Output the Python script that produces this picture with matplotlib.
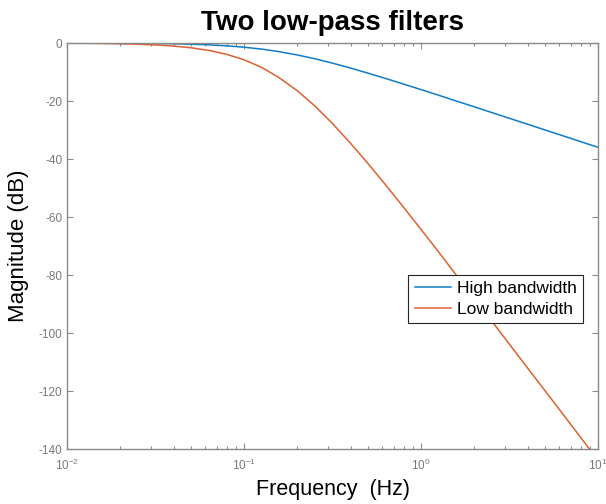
import numpy as np
import matplotlib
matplotlib.use('Agg')
import matplotlib.pyplot as plt

# frequencies, every 0.1 decade from 10^-2 to 10^1 (Hz)
freq = [0.01, 0.0126, 0.0158, 0.02, 0.0251, 0.0316, 0.0398, 0.0501, 0.0631, 0.0794,
        0.1, 0.126, 0.158, 0.2, 0.251, 0.316, 0.398, 0.501, 0.631, 0.794,
        1.0, 1.26, 1.58, 2.0, 2.51, 3.16, 3.98, 5.01, 6.31, 7.94, 10.0]

# magnitudes (dB)
high_bw = [-0.02, -0.03, -0.04, -0.07, -0.11, -0.17, -0.26, -0.41, -0.63, -0.97,
           -1.45, -2.11, -2.99, -4.12, -5.42, -6.94, -8.61, -10.38, -12.23, -14.13,
           -16.07, -18.03, -20.0, -22.01, -23.97, -25.97, -27.97, -29.96, -31.96, -33.96, -35.97]
low_bw = [-0.07, -0.11, -0.17, -0.27, -0.43, -0.67, -1.05, -1.64, -2.54, -3.86,
          -5.78, -8.44, -11.96, -16.46, -21.68, -27.76, -34.44, -41.52, -48.92, -56.52,
          -64.28, -72.12, -80.0, -88.04, -95.88, -103.88, -111.88, -119.84, -127.84, -135.84, -143.88]

labels = ['High bandwidth', 'Low bandwidth']
yticks = [-140, -120, -100, -80, -60, -40, -20, 0]

plt.rcParams['font.family'] = ['Liberation Sans', 'DejaVu Sans']

fig = plt.figure(figsize=(6.06, 5.04), dpi=100)
ax = fig.add_axes([67 / 606, 1 - 449 / 504, 531 / 606, 406 / 504])

ax.semilogx(freq, high_bw, color='#0f7cc8', lw=1.1, label=labels[0])
ax.semilogx(freq, low_bw, color='#df6030', lw=1.1, label=labels[1])

ax.set_xlim(0.01, 10)
ax.set_ylim(-140, 0)
ax.set_yticks(yticks)
ax.set_yticklabels([str(t) for t in yticks])

for s in ax.spines.values():
    s.set_color('#8a8a8a')
    s.set_linewidth(1.0)
ax.tick_params(which='both', direction='in', top=True, right=True,
               colors='#8a8a8a', labelcolor='#7a7a7a', labelsize=8.5)
ax.tick_params(which='major', length=4, width=0.8)
ax.tick_params(which='minor', length=2.5, width=0.8)
ax.tick_params(axis='x', pad=6)

ax.set_title('Two low-pass filters', fontsize=20, fontweight='bold', pad=9)
ax.set_xlabel('Frequency  (Hz)', fontsize=15.5, labelpad=5)
ax.set_ylabel('Magnitude (dB)', fontsize=16, labelpad=7)

leg = ax.legend(loc='upper right', bbox_to_anchor=(516 / 531, 174 / 406),
                fontsize=12.5, fancybox=False, framealpha=1, borderaxespad=0,
                handlelength=2.1, handletextpad=0.35, borderpad=0.35, labelspacing=0.3)
leg.get_frame().set_edgecolor('#262626')
leg.get_frame().set_linewidth(0.8)

plt.savefig('out.png', dpi=100)
plt.close()
